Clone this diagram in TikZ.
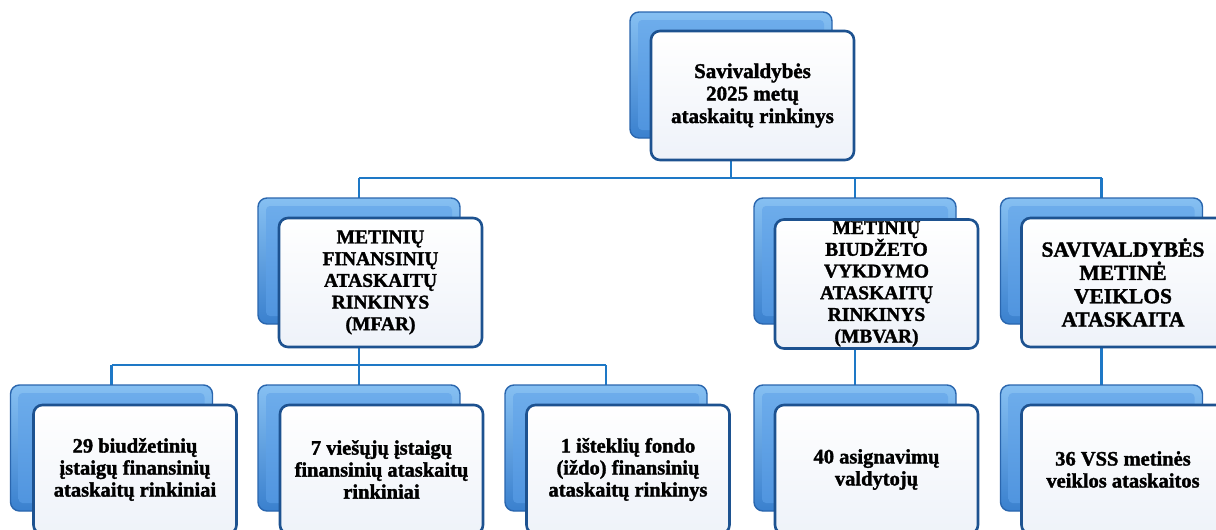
\documentclass[tikz,border=0pt]{standalone}
\usepackage{fontspec}
\setmainfont{Liberation Serif}[BoldFeatures={FakeBold=1.6}]
\definecolor{conncol}{HTML}{1E78C6}
\definecolor{backtop}{HTML}{86C0F2}
\definecolor{backbot}{HTML}{3A80CE}
\definecolor{backedge}{HTML}{2A66AE}
\definecolor{facetop}{HTML}{6FAEEC}
\definecolor{facebot}{HTML}{4E93DE}
\definecolor{frontfill}{HTML}{EEF2F9}
\definecolor{frontedge}{HTML}{1D5290}
\begin{document}
\begin{tikzpicture}[x=1pt,y=-1pt,
  conn/.style={draw=conncol, line width=2.6pt},
  backbox/.style={rectangle, rounded corners=9pt, draw=backedge, line width=1.4pt,
    top color=backtop, bottom color=backbot, minimum width=202pt, minimum height=126pt, inner sep=0pt,
    path picture={\shade[top color=facetop, bottom color=facebot, rounded corners=4pt]
      ([shift={(8pt,-8pt)}]path picture bounding box.north west) rectangle
      ([shift={(-8pt,8pt)}]path picture bounding box.south east);}},
  frontbox/.style={rectangle, rounded corners=9pt, draw=frontedge, line width=2.6pt,
    top color=white, bottom color=frontfill, minimum width=203pt, minimum height=129pt,
    inner sep=0pt, align=center, text=black, font=\bfseries\fontsize{20.5}{22}\selectfont},
  fsize/.style 2 args={font=\bfseries\fontsize{#1}{#2}\selectfont}]
\useasboundingbox (0,0) rectangle (1216,530);
\fill[white] (0,0) rectangle (1216,530);

\coordinate (bus1) at (0,178);
\coordinate (bus2) at (0,365);

% back boxes (used as connector anchors)
\path (731,75) node[minimum width=202pt, minimum height=126pt] (tb) {};
\path (359,261) node[minimum width=202pt, minimum height=126pt] (ab) {};
\path (855,261) node[minimum width=202pt, minimum height=126pt] (bb) {};
\path (1101.5,261) node[minimum width=202pt, minimum height=126pt] (cb) {};
\path (111.5,448) node[minimum width=202pt, minimum height=126pt] (a1b) {};
\path (359,448) node[minimum width=202pt, minimum height=126pt] (a2b) {};
\path (606,448) node[minimum width=202pt, minimum height=126pt] (a3b) {};
\path (855,448) node[minimum width=202pt, minimum height=126pt] (b1b) {};
\path (1101.5,448) node[minimum width=202pt, minimum height=126pt] (c1b) {};

% connectors
\draw[conn] (tb.center) -- (tb.center |- bus1);
\draw[conn] (ab.center |- bus1) -- (cb.center |- bus1);
\draw[conn] (ab.center |- bus1) -- (ab.center);
\draw[conn] (bb.center |- bus1) -- (bb.center);
\draw[conn] (cb.center |- bus1) -- (cb.center);
\draw[conn] (ab.center) -- (ab.center |- bus2);
\draw[conn] (a1b.center |- bus2) -- (a3b.center |- bus2);
\draw[conn] (a1b.center |- bus2) -- (a1b.center);
\draw[conn] (a2b.center |- bus2) -- (a2b.center);
\draw[conn] (a3b.center |- bus2) -- (a3b.center);
\draw[conn] (bb.center) -- (b1b.center);
\draw[conn] (cb.center) -- (c1b.center);

% visible back boxes
\foreach \n/\x/\y in {tbv/731/75, abv/359/261, bbv/855/261, cbv/1101.5/261,
  a1bv/111.5/448, a2bv/359/448, a3bv/606/448, b1bv/855/448, c1bv/1101.5/448}
  {\node[backbox] (\n) at (\x,\y) {};}

% front boxes
\node[frontbox, fsize={21}{22.5}] (t) at (752.5,95.5) {Savivaldybės\\2025 metų\\ataskaitų rinkinys};
\node[frontbox, fsize={19.5}{21.7}] (a) at (380.5,282.5) {METINIŲ\\FINANSINIŲ\\ATASKAITŲ\\RINKINYS\\(MFAR)};
\node[frontbox, fsize={19.5}{21.7}] (b) at (876.5,284) {METINIŲ\\BIUDŽETO\\VYKDYMO\\ATASKAITŲ\\RINKINYS\\(MBVAR)};
\node[frontbox, fsize={21.5}{23.3}] (c) at (1123,282.5) {SAVIVALDYBĖS\\METINĖ\\VEIKLOS\\ATASKAITA};
\node[frontbox] (a1) at (135,469.5) {29 biudžetinių\\įstaigų finansinių\\ataskaitų rinkiniai};
\node[frontbox] (a2) at (381.5,469.5) {7 viešųjų įstaigų\\finansinių ataskaitų\\rinkiniai};
\node[frontbox] (a3) at (628,469.5) {1 išteklių fondo\\(iždo) finansinių\\ataskaitų rinkinys};
\node[frontbox] (b1) at (876.5,469.5) {40 asignavimų\\valdytojų};
\node[frontbox] (c1) at (1123,469.5) {36 VSS metinės\\veiklos ataskaitos};
\end{tikzpicture}
\end{document}
